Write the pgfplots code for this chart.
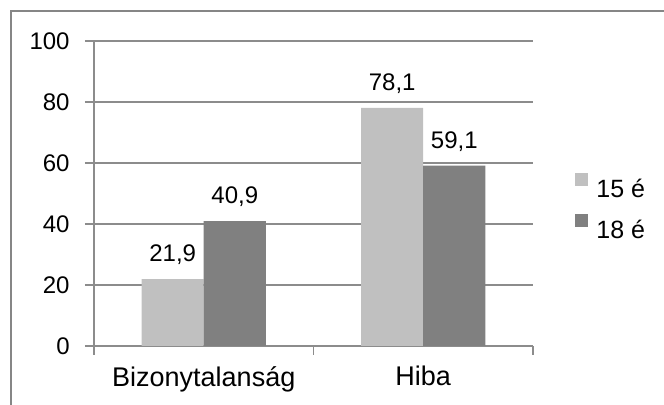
\documentclass[border=0pt]{standalone}
\usepackage{pgfplots}
\pgfplotsset{compat=1.18}
\usepackage{fontspec}
\setmainfont{Liberation Sans}
\definecolor{light}{RGB}{192,192,192}
\definecolor{dark}{RGB}{128,128,128}
\definecolor{gridc}{RGB}{140,140,140}
\definecolor{framec}{RGB}{134,134,134}
\begin{document}
\begin{tikzpicture}[x=0.5pt,y=0.5pt]
\useasboundingbox (-94,-59) rectangle (570,346);
\draw[framec, line width=1pt] (-83,-80) rectangle (590,335);
\begin{axis}[
  at={(0,0)}, anchor=south west,
  scale only axis,
  width=219.5pt, height=152.5pt,
  ybar=0pt, bar width=0.283,
  xmin=-0.5, xmax=1.5,
  ymin=0, ymax=100, ytick distance=20,
  axis lines*=left,
  axis line style={gridc, line width=0.6pt},
  ymajorgrids, grid style={gridc, line width=0.6pt},
  tick align=outside,
  major tick length=4.5pt,
  tick style={gridc, line width=0.6pt},
  xtick={-0.5,0.5,1.5}, xticklabels={},
  extra x ticks={0,1},
  extra x tick labels={Bizonytalanság,Hiba},
  extra x tick style={major tick length=0pt, grid=none},
  /pgf/number format/assume math mode=true,
  ticklabel style={font=\fontsize{12}{14}\selectfont},
  xticklabel style={font=\fontsize{13.5}{15}\selectfont, inner sep=0pt, yshift=-10pt},
  yticklabel style={inner sep=0pt, xshift=-7.5pt},
  nodes near coords,
  nodes near coords style={font=\fontsize{12}{14}\selectfont, anchor=south, inner sep=0pt, yshift=7pt,
    /pgf/number format/.cd, use comma, fixed, fixed zerofill, precision=1},
  legend style={at={(1.0957,0.459)}, anchor=west, draw=none, fill=none,
    font=\fontsize{12.5}{14}\selectfont, inner sep=0pt, column sep=4pt, row sep=8.5pt,
    nodes={inner sep=0pt, text height=9pt, text depth=0pt}},
  legend cell align=left,
  legend image code/.code={\fill[#1] (0pt,1pt) rectangle (6.5pt,7.5pt);},
]
\addplot[fill=light, draw=none] coordinates {(0,21.9) (1,78.1)};
\addplot[fill=dark, draw=none] coordinates {(0,40.9) (1,59.1)};
\legend{15 é, 18 é}
\end{axis}
\end{tikzpicture}
\end{document}
